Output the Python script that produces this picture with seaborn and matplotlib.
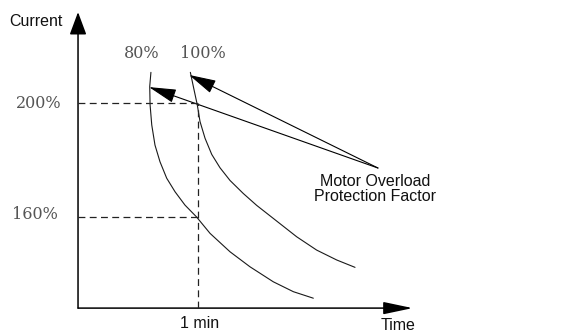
import matplotlib
matplotlib.use("Agg")
import matplotlib.pyplot as plt
from matplotlib.patches import FancyArrowPatch
import numpy as np
import pandas as pd
import seaborn as sns

# ---- data (schematic: time in minutes, current in %) ----
time_80 = [0.61, 0.60, 0.603, 0.617, 0.644, 0.686, 0.742, 0.812, 0.895, 0.99,
           1.105, 1.272, 1.439, 1.634, 1.802, 1.969]
current_80 = [211, 206, 199.5, 192.4, 185.3, 179.4, 173.6, 168.8, 164.1, 160.0,
              154.1, 147.6, 142.3, 137.0, 133.5, 131.2]
time_100 = [0.94, 0.965, 0.998, 1.021, 1.063, 1.119, 1.188, 1.272, 1.383, 1.495,
            1.634, 1.83, 1.997, 2.165, 2.318]
current_100 = [211, 206, 199.5, 193.6, 187.7, 182.0, 177.3, 172.8, 168.2, 164.0,
               159.4, 152.9, 148.2, 144.7, 142.1]
factor_labels = ["80%", "100%"]
current_ticks = [200, 160]
current_tick_labels = ["200%", "160%"]
time_mark = 1.0
time_mark_label = "1 min"
annotation_text = "Motor Overload\nProtection Factor"

sns.set_theme(style="white")
plt.rcParams["font.family"] = ["Liberation Sans", "DejaVu Sans"]

fig = plt.figure(figsize=(5.67, 3.34), dpi=100)
ax = fig.add_axes([0, 0, 1, 1])
ax.set_xlim(-0.653, 4.092)
ax.set_ylim(118.55, 236.57)
ax.axis("off")

df = pd.concat([
    pd.DataFrame({"time": time_80, "current": current_80, "factor": factor_labels[0]}),
    pd.DataFrame({"time": time_100, "current": current_100, "factor": factor_labels[1]}),
])
sns.lineplot(data=df, x="time", y="current", units="factor", estimator=None,
             sort=False, color="#1a1a1a", lw=0.8, ax=ax, legend=False)

x_end, y_bot, y_top = 2.80, 127.7, 232.3
dash = (0, (5.5, 3.5))
for c in current_ticks:
    ax.plot([0, time_mark], [c, c], color="#222222", lw=0.9, ls=dash)
ax.plot([time_mark, time_mark], [y_bot, max(current_ticks)], color="#222222", lw=0.9, ls=dash)

# axes with arrows
ax.add_patch(FancyArrowPatch((0, y_bot), (0, y_top), arrowstyle="-|>,head_length=14,head_width=5.2",
                             mutation_scale=1, color="black", lw=1.1, shrinkA=0, shrinkB=0))
ax.add_patch(FancyArrowPatch((0, y_bot), (x_end, y_bot), arrowstyle="-|>,head_length=18,head_width=3.8",
                             mutation_scale=1, color="black", lw=1.1, shrinkA=0, shrinkB=0))

# annotation arrows
src = (2.51, 177.2)
for tip in [(0.594, 205.8), (0.929, 210.1)]:
    ax.add_patch(FancyArrowPatch(src, tip, arrowstyle="-|>,head_length=17,head_width=4.3",
                                 mutation_scale=1, color="black", lw=0.8, shrinkA=0, shrinkB=0))

gray = "#555555"
serif = ["DejaVu Serif"]
ax.text(-0.126, 228.8, "Current", ha="right", va="center", fontsize=11.5, color="#111111")
ax.text(0.536, 217.5, factor_labels[0], ha="center", va="center", fontsize=11.5, color=gray, family=serif)
ax.text(1.046, 217.5, factor_labels[1], ha="center", va="center", fontsize=11.5, color=gray, family=serif)
ax.text(-0.134, 200.0, current_tick_labels[0], ha="right", va="center", fontsize=11.5, color=gray, family=serif)
ax.text(-0.167, 160.6, current_tick_labels[1], ha="right", va="center", fontsize=11.5, color=gray, family=serif)
ax.text(time_mark + 0.02, 122.4, time_mark_label, ha="center", va="center", fontsize=11.5, color="#111111")
ax.text(2.68, 121.7, "Time", ha="center", va="center", fontsize=11.5, color="#111111")
ax.text(2.485, 169.8, annotation_text, ha="center", va="center", fontsize=11.5,
        color="#111111", linespacing=1.0)

fig.savefig("out.png", dpi=100)
